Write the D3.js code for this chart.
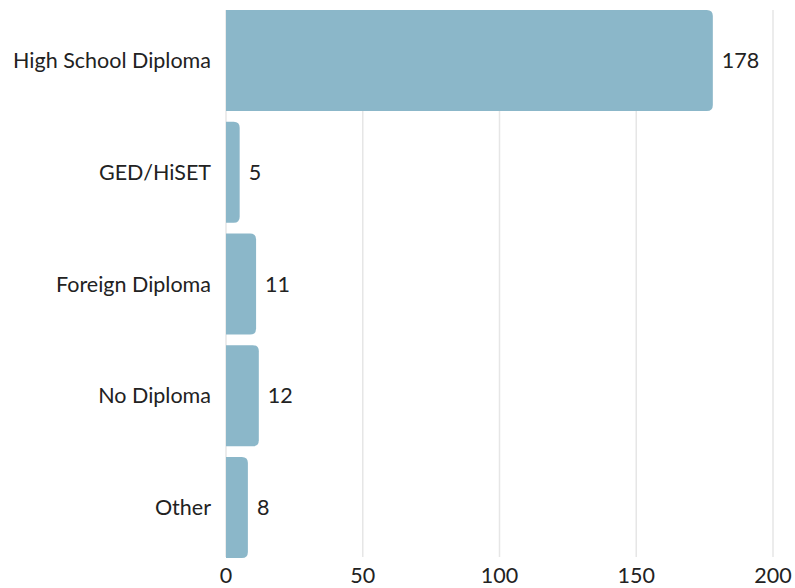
<!DOCTYPE html>
<html><head><meta charset="utf-8">
<script src="https://cdn.jsdelivr.net/npm/d3@7"></script>
<style>body{margin:0;background:#fff}svg{display:block}text{font-family:Lato,sans-serif;fill:#222}</style>
</head><body><svg id="c" width="795" height="588"></svg>
<script>
const categories = ["High School Diploma","GED/HiSET","Foreign Diploma","No Diploma","Other"];
const values = [178,5,11,12,8];
const ticks = [0,50,100,150,200];

const svg = d3.select("#c");
const x = d3.scaleLinear().domain([0,200]).range([226,773]);
const y = d3.scaleBand().domain(categories).range([10,558]).paddingInner(0.095).paddingOuter(0);
const fs = 21.5;

// grid
svg.append("g").selectAll("line").data(ticks).join("line")
  .attr("x1",d=>x(d)).attr("x2",d=>x(d)).attr("y1",10).attr("y2",557)
  .attr("stroke","#e6e6e6").attr("stroke-width",1.5);

// bars with rounded right corners
const r = 6;
function barPath(x0,x1,y0,h){
  const rr = Math.min(r,(x1-x0));
  return `M${x0},${y0}H${x1-rr}Q${x1},${y0} ${x1},${y0+rr}V${y0+h-rr}Q${x1},${y0+h} ${x1-rr},${y0+h}H${x0}Z`;
}
svg.append("g").selectAll("path").data(categories).join("path")
  .attr("d",(c,i)=>barPath(x(0),x(values[i]),y(c),y.bandwidth()))
  .attr("fill","#8bb7c9");

// value labels
svg.append("g").selectAll("text").data(categories).join("text")
  .attr("x",(c,i)=>x(values[i])+9).attr("y",c=>y(c)+y.bandwidth()/2)
  .attr("dy","0.35em").attr("font-size",fs).text((c,i)=>values[i]);

// y labels
svg.append("g").selectAll("text").data(categories).join("text")
  .attr("x",211).attr("y",c=>y(c)+y.bandwidth()/2).attr("dy","0.35em")
  .attr("text-anchor","end").attr("font-size",fs).text(c=>c);

// x tick labels
svg.append("g").selectAll("text").data(ticks).join("text")
  .attr("x",d=>x(d)).attr("y",583).attr("text-anchor","middle")
  .attr("font-size",fs).text(d=>d);
</script></body></html>
